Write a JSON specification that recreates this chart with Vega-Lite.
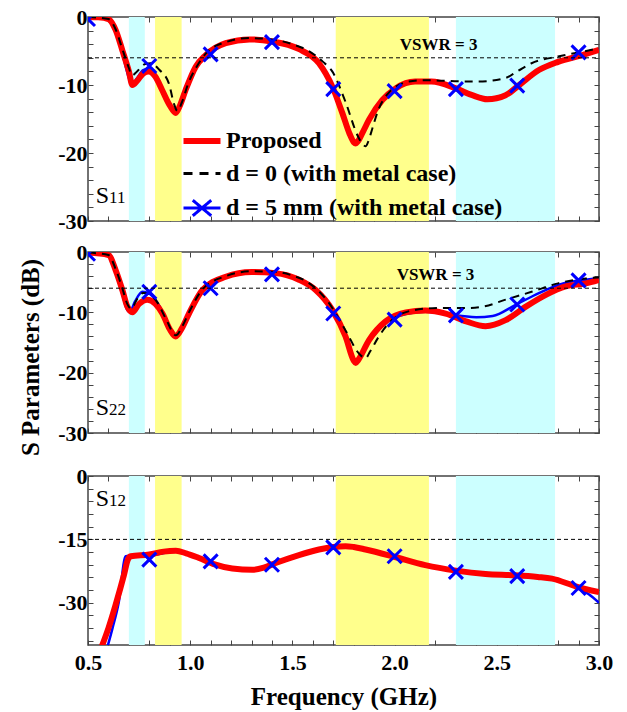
{
  "$schema": "https://vega.github.io/schema/vega-lite/v6.json",
  "padding": {"left": 17, "top": 5, "right": 10, "bottom": 0},
  "config": {
    "font": "Liberation Serif",
    "view": {"stroke": "#444", "strokeWidth": 1.5},
    "axis": {"grid": false, "domain": false, "tickColor": "#444", "tickSize": -5, "tickWidth": 1, "labelFont": "Liberation Serif", "labelFontWeight": "bold", "labelFontSize": 22, "labelColor": "#000", "titleFont": "Liberation Serif", "titleFontWeight": "bold", "titleFontSize": 25, "titleColor": "#000", "labelPadding": 6, "labelOverlap": false},
    "axisX": {"labelFlush": false}
  },
  "datasets": {
    "bands": [{"f1": 0.70, "f2": 0.778, "band": "c"}, {"f1": 0.828, "f2": 0.958, "band": "y"}, {"f1": 1.712, "f2": 2.168, "band": "y"}, {"f1": 2.30, "f2": 2.785, "band": "c"}],
    "s11_prop": [{"f":0.50,"db":0},{"f":0.55,"db":-0.05},{"f":0.60,"db":-0.3},{"f":0.635,"db":-1.9},{"f":0.668,"db":-4.9},{"f":0.70,"db":-8.0},{"f":0.717,"db":-10.0},{"f":0.74,"db":-9.4},{"f":0.77,"db":-8.3},{"f":0.798,"db":-8.0},{"f":0.83,"db":-8.8},{"f":0.862,"db":-10.7},{"f":0.90,"db":-13.0},{"f":0.929,"db":-14.1},{"f":0.95,"db":-13.0},{"f":0.978,"db":-10.7},{"f":1.027,"db":-7.3},{"f":1.076,"db":-5.6},{"f":1.174,"db":-3.85},{"f":1.29,"db":-3.3},{"f":1.40,"db":-3.6},{"f":1.53,"db":-4.7},{"f":1.63,"db":-6.8},{"f":1.695,"db":-10.2},{"f":1.744,"db":-14.1},{"f":1.78,"db":-17.2},{"f":1.80,"db":-18.4},{"f":1.81,"db":-18.6},{"f":1.82,"db":-18.3},{"f":1.845,"db":-16.9},{"f":1.875,"db":-15.1},{"f":1.94,"db":-12.2},{"f":2.005,"db":-10.5},{"f":2.10,"db":-9.5},{"f":2.18,"db":-9.5},{"f":2.30,"db":-10.5},{"f":2.38,"db":-11.5},{"f":2.454,"db":-12.1},{"f":2.543,"db":-11.5},{"f":2.61,"db":-10.0},{"f":2.706,"db":-7.8},{"f":2.80,"db":-6.6},{"f":2.918,"db":-5.6},{"f":3.0,"db":-4.85}],
    "s11_d0": [{"f":0.50,"db":0},{"f":0.60,"db":-0.3},{"f":0.635,"db":-1.8},{"f":0.668,"db":-4.7},{"f":0.70,"db":-7.5},{"f":0.715,"db":-8.6},{"f":0.74,"db":-8.0},{"f":0.78,"db":-6.9},{"f":0.806,"db":-6.8},{"f":0.85,"db":-7.8},{"f":0.896,"db":-9.8},{"f":0.92,"db":-12.7},{"f":0.937,"db":-13.8},{"f":0.96,"db":-12.5},{"f":0.99,"db":-9.8},{"f":1.03,"db":-7.4},{"f":1.076,"db":-5.4},{"f":1.174,"db":-3.7},{"f":1.29,"db":-3.1},{"f":1.40,"db":-3.3},{"f":1.50,"db":-4.0},{"f":1.58,"db":-5.0},{"f":1.65,"db":-6.6},{"f":1.695,"db":-8.0},{"f":1.76,"db":-12.5},{"f":1.82,"db":-17.5},{"f":1.85,"db":-18.9},{"f":1.858,"db":-19.0},{"f":1.87,"db":-18.4},{"f":1.89,"db":-16.5},{"f":1.92,"db":-13.7},{"f":1.97,"db":-11.2},{"f":2.07,"db":-9.5},{"f":2.15,"db":-9.3},{"f":2.26,"db":-9.4},{"f":2.40,"db":-9.5},{"f":2.54,"db":-9.0},{"f":2.60,"db":-8.0},{"f":2.67,"db":-6.8},{"f":2.80,"db":-5.8},{"f":2.92,"db":-5.1},{"f":3.0,"db":-4.6}],
    "s11_d5": [{"f":0.50,"db":0},{"f":0.60,"db":-0.4},{"f":0.635,"db":-2.2},{"f":0.668,"db":-5.4},{"f":0.70,"db":-9.0},{"f":0.712,"db":-10.0},{"f":0.74,"db":-9.0},{"f":0.77,"db":-7.8},{"f":0.80,"db":-7.6},{"f":0.83,"db":-8.4},{"f":0.862,"db":-10.4},{"f":0.90,"db":-12.8},{"f":0.929,"db":-13.9},{"f":0.95,"db":-12.8},{"f":0.978,"db":-10.5},{"f":1.027,"db":-7.2},{"f":1.076,"db":-5.6},{"f":1.174,"db":-3.8},{"f":1.29,"db":-3.2},{"f":1.40,"db":-3.5},{"f":1.53,"db":-4.6},{"f":1.63,"db":-6.7},{"f":1.695,"db":-10.1},{"f":1.744,"db":-14.0},{"f":1.78,"db":-17.0},{"f":1.81,"db":-18.4},{"f":1.84,"db":-17.2},{"f":1.875,"db":-15.0},{"f":1.94,"db":-12.2},{"f":2.005,"db":-10.6},{"f":2.10,"db":-9.6},{"f":2.18,"db":-9.6},{"f":2.30,"db":-10.6},{"f":2.38,"db":-11.4},{"f":2.454,"db":-11.9},{"f":2.543,"db":-11.4},{"f":2.61,"db":-10.0},{"f":2.706,"db":-7.8},{"f":2.80,"db":-6.5},{"f":2.918,"db":-5.5},{"f":3.0,"db":-4.8}],
    "m11": [{"f":0.5,"db":-0.3},{"f":0.8,"db":-7.2},{"f":1.1,"db":-5.5},{"f":1.4,"db":-3.7},{"f":1.7,"db":-10.6},{"f":2.0,"db":-10.9},{"f":2.3,"db":-10.6},{"f":2.6,"db":-10.1},{"f":2.9,"db":-5.2}],
    "s22_prop": [{"f":0.50,"db":-0.1},{"f":0.60,"db":-0.5},{"f":0.635,"db":-3.0},{"f":0.668,"db":-6.3},{"f":0.692,"db":-9.0},{"f":0.717,"db":-10.0},{"f":0.75,"db":-8.6},{"f":0.79,"db":-7.9},{"f":0.83,"db":-8.6},{"f":0.864,"db":-10.2},{"f":0.90,"db":-12.8},{"f":0.929,"db":-14.0},{"f":0.96,"db":-12.6},{"f":0.994,"db":-10.2},{"f":1.06,"db":-6.3},{"f":1.174,"db":-4.1},{"f":1.30,"db":-3.3},{"f":1.418,"db":-3.5},{"f":1.532,"db":-4.6},{"f":1.614,"db":-6.3},{"f":1.695,"db":-9.6},{"f":1.76,"db":-14.0},{"f":1.80,"db":-18.0},{"f":1.81,"db":-18.4},{"f":1.82,"db":-18.0},{"f":1.875,"db":-14.6},{"f":1.956,"db":-11.5},{"f":2.055,"db":-10.0},{"f":2.15,"db":-9.7},{"f":2.25,"db":-10.2},{"f":2.35,"db":-11.5},{"f":2.445,"db":-12.3},{"f":2.543,"db":-11.3},{"f":2.64,"db":-9.1},{"f":2.74,"db":-7.1},{"f":2.837,"db":-5.7},{"f":2.935,"db":-5.2},{"f":3.0,"db":-4.6}],
    "s22_d0": [{"f":0.50,"db":-0.1},{"f":0.60,"db":-0.5},{"f":0.635,"db":-2.8},{"f":0.668,"db":-6.0},{"f":0.692,"db":-8.6},{"f":0.712,"db":-9.4},{"f":0.74,"db":-7.8},{"f":0.77,"db":-6.8},{"f":0.80,"db":-7.0},{"f":0.84,"db":-8.4},{"f":0.88,"db":-11.0},{"f":0.93,"db":-13.8},{"f":0.96,"db":-12.4},{"f":0.994,"db":-10.0},{"f":1.06,"db":-6.2},{"f":1.174,"db":-4.0},{"f":1.30,"db":-3.2},{"f":1.418,"db":-3.3},{"f":1.50,"db":-3.9},{"f":1.565,"db":-4.8},{"f":1.62,"db":-6.2},{"f":1.68,"db":-8.5},{"f":1.76,"db":-13.0},{"f":1.83,"db":-17.0},{"f":1.858,"db":-17.6},{"f":1.88,"db":-16.5},{"f":1.923,"db":-14.0},{"f":1.99,"db":-11.2},{"f":2.10,"db":-9.6},{"f":2.21,"db":-9.3},{"f":2.34,"db":-9.3},{"f":2.44,"db":-9.0},{"f":2.543,"db":-7.9},{"f":2.67,"db":-6.6},{"f":2.80,"db":-5.2},{"f":2.935,"db":-4.4},{"f":3.0,"db":-4.2}],
    "s22_d5": [{"f":0.50,"db":-0.1},{"f":0.60,"db":-0.6},{"f":0.635,"db":-3.4},{"f":0.668,"db":-7.0},{"f":0.692,"db":-9.6},{"f":0.705,"db":-9.9},{"f":0.73,"db":-8.2},{"f":0.766,"db":-6.6},{"f":0.80,"db":-6.9},{"f":0.84,"db":-8.4},{"f":0.88,"db":-11.0},{"f":0.925,"db":-13.8},{"f":0.96,"db":-12.4},{"f":0.994,"db":-10.0},{"f":1.06,"db":-6.2},{"f":1.174,"db":-4.0},{"f":1.30,"db":-3.2},{"f":1.418,"db":-3.4},{"f":1.532,"db":-4.5},{"f":1.614,"db":-6.2},{"f":1.695,"db":-9.8},{"f":1.76,"db":-14.2},{"f":1.805,"db":-18.0},{"f":1.815,"db":-18.2},{"f":1.825,"db":-17.8},{"f":1.875,"db":-14.9},{"f":1.956,"db":-11.8},{"f":2.055,"db":-10.3},{"f":2.15,"db":-9.9},{"f":2.25,"db":-10.2},{"f":2.30,"db":-10.5},{"f":2.40,"db":-10.8},{"f":2.48,"db":-10.6},{"f":2.59,"db":-8.8},{"f":2.706,"db":-6.8},{"f":2.837,"db":-5.1},{"f":2.935,"db":-4.6},{"f":3.0,"db":-4.3}],
    "m22": [{"f":0.5,"db":-0.3},{"f":0.8,"db":-6.6},{"f":1.1,"db":-6.0},{"f":1.4,"db":-3.7},{"f":1.7,"db":-10.2},{"f":2.0,"db":-11.2},{"f":2.3,"db":-10.5},{"f":2.6,"db":-8.7},{"f":2.9,"db":-4.7}],
    "s12_prop": [{"f":0.562,"db":-41},{"f":0.60,"db":-36},{"f":0.635,"db":-30.5},{"f":0.676,"db":-23.4},{"f":0.695,"db":-19.8},{"f":0.709,"db":-19.0},{"f":0.80,"db":-18.6},{"f":0.87,"db":-17.9},{"f":0.93,"db":-17.7},{"f":0.98,"db":-18.3},{"f":1.043,"db":-19.4},{"f":1.12,"db":-20.9},{"f":1.206,"db":-21.9},{"f":1.304,"db":-22.2},{"f":1.36,"db":-21.7},{"f":1.418,"db":-20.6},{"f":1.532,"db":-18.7},{"f":1.63,"db":-17.4},{"f":1.70,"db":-16.8},{"f":1.76,"db":-16.6},{"f":1.80,"db":-16.8},{"f":1.858,"db":-17.4},{"f":1.99,"db":-19.0},{"f":2.15,"db":-21.1},{"f":2.30,"db":-22.4},{"f":2.445,"db":-23.2},{"f":2.59,"db":-23.5},{"f":2.70,"db":-23.9},{"f":2.77,"db":-24.3},{"f":2.886,"db":-26.1},{"f":3.0,"db":-27.5}],
    "s12_d0": [{"f":0.57,"db":-41},{"f":0.61,"db":-35.5},{"f":0.645,"db":-29.8},{"f":0.68,"db":-23.0},{"f":0.70,"db":-19.6},{"f":0.72,"db":-18.9},{"f":0.80,"db":-18.8},{"f":0.93,"db":-17.8},{"f":1.043,"db":-19.5},{"f":1.206,"db":-22.0},{"f":1.304,"db":-22.3},{"f":1.418,"db":-20.5},{"f":1.532,"db":-18.5},{"f":1.70,"db":-16.7},{"f":1.76,"db":-16.5},{"f":1.858,"db":-17.3},{"f":1.99,"db":-19.0},{"f":2.15,"db":-21.2},{"f":2.35,"db":-22.9},{"f":2.445,"db":-23.1},{"f":2.59,"db":-23.4},{"f":2.77,"db":-24.2},{"f":2.886,"db":-26.0},{"f":3.0,"db":-27.6}],
    "s12_d5": [{"f":0.592,"db":-41},{"f":0.62,"db":-36},{"f":0.65,"db":-30},{"f":0.684,"db":-19.0},{"f":0.72,"db":-18.8},{"f":0.79,"db":-18.9},{"f":0.93,"db":-17.8},{"f":1.043,"db":-19.5},{"f":1.206,"db":-22.0},{"f":1.304,"db":-22.2},{"f":1.418,"db":-20.7},{"f":1.532,"db":-18.8},{"f":1.695,"db":-16.9},{"f":1.76,"db":-16.7},{"f":1.858,"db":-17.5},{"f":2.0,"db":-19.1},{"f":2.15,"db":-21.2},{"f":2.30,"db":-22.5},{"f":2.445,"db":-23.3},{"f":2.59,"db":-23.6},{"f":2.77,"db":-24.5},{"f":2.89,"db":-26.3},{"f":2.95,"db":-28.0},{"f":3.0,"db":-30.0}],
    "m12": [{"f":0.8,"db":-19.8},{"f":1.1,"db":-20.2},{"f":1.4,"db":-21.0},{"f":1.7,"db":-16.9},{"f":2.0,"db":-19.0},{"f":2.3,"db":-22.7},{"f":2.6,"db":-23.7},{"f":2.9,"db":-26.5}]
  },
  "spacing": 4,
  "vconcat": [
    {
      "bounds": "flush",
      "spacing": 31,
      "vconcat": [
        {
          "width": 511, "height": 204,
          "resolve": {"scale": {"x": "independent", "y": "independent"}},
          "layer": [
            {
              "layer": [
                {"data": {"name": "bands"}, "mark": {"type": "rect", "clip": true},
                 "encoding": {"x": {"field": "f1", "type": "quantitative", "scale": {"domain": [0.5, 3], "nice": false, "zero": false}, "title": null, "axis": {"tickCount": 25, "labels": false}}, "x2": {"field": "f2"},
                  "fill": {"condition": {"test": "datum.band == 'c'", "value": "#ccffff"}, "value": "#ffff8c"}}},
                {"data": {"name": "s11_d5"}, "mark": {"type": "line", "strokeWidth": 2.5, "interpolate": "monotone", "clip": true},
                 "encoding": {"x": {"field": "f", "type": "quantitative", "scale": {"domain": [0.5, 3], "nice": false, "zero": false}, "title": null},
                  "y": {"field": "db", "type": "quantitative", "scale": {"domain": [-30, 0], "nice": false, "zero": false}, "title": null, "axis": {"tickCount": 15, "labelOverlap": false, "labelExpr": "datum.value % 10 == 0 ? '' + datum.value : ''"}},
                  "color": {"datum": "d = 5 mm (with metal case)", "type": "nominal",
                    "scale": {"domain": ["Proposed", "d = 0 (with metal case)", "d = 5 mm (with metal case)"], "range": ["#ff0000", "#000000", "#0000ff"]},
                    "legend": {"orient": "none", "legendX": 102, "legendY": 112, "title": null, "labelFont": "Liberation Serif", "labelFontWeight": "bold", "labelFontSize": 24, "labelColor": "#000", "labelLimit": 400, "symbolType": "stroke", "symbolSize": 1369, "symbolStrokeWidth": 3, "labelOffset": 12, "rowPadding": 8.5,
                      "encode": {"symbols": {"update": {
                        "strokeDash": {"signal": "datum.value == 'd = 0 (with metal case)' ? [9, 7] : [1, 0]"},
                        "strokeWidth": {"signal": "datum.value == 'Proposed' ? 6 : 3"},
                        "shape": {"signal": "datum.value == 'd = 5 mm (with metal case)' ? 'M-1,0L1,0M-0.5,-0.42L0.5,0.42M-0.5,0.42L0.5,-0.42' : 'stroke'"}}}}}}}},
                {"data": {"name": "s11_prop"}, "mark": {"type": "line", "strokeWidth": 6, "interpolate": "monotone", "clip": true, "strokeJoin": "round"},
                 "encoding": {"x": {"field": "f", "type": "quantitative", "scale": {"domain": [0.5, 3], "nice": false, "zero": false}, "title": null},
                  "y": {"field": "db", "type": "quantitative", "scale": {"domain": [-30, 0], "nice": false, "zero": false}, "title": null},
                  "color": {"datum": "Proposed", "type": "nominal"}}},
                {"data": {"name": "s11_d0"}, "mark": {"type": "line", "strokeWidth": 2, "strokeDash": [8, 6], "interpolate": "monotone", "clip": true},
                 "encoding": {"x": {"field": "f", "type": "quantitative", "scale": {"domain": [0.5, 3], "nice": false, "zero": false}, "title": null},
                  "y": {"field": "db", "type": "quantitative", "scale": {"domain": [-30, 0], "nice": false, "zero": false}, "title": null},
                  "color": {"datum": "d = 0 (with metal case)", "type": "nominal"}}},
                {"data": {"name": "m11"}, "mark": {"type": "point", "shape": "M-1,-1L1,1M-1,1L1,-1", "filled": false, "stroke": "#0000ff", "strokeWidth": 3, "size": 196, "opacity": 1, "clip": true},
                 "encoding": {"x": {"field": "f", "type": "quantitative", "scale": {"domain": [0.5, 3], "nice": false, "zero": false}, "title": null},
                  "y": {"field": "db", "type": "quantitative", "scale": {"domain": [-30, 0], "nice": false, "zero": false}, "title": null}}},
                {"data": {"values": [{"label": "VSWR = 3", "f": 2.215, "db": -4.9}]}, "mark": {"type": "text", "fontWeight": "bold", "fontSize": 17, "align": "center", "baseline": "alphabetic", "color": "#000"},
                 "encoding": {"x": {"field": "f", "type": "quantitative", "title": null}, "y": {"field": "db", "type": "quantitative", "title": null}, "text": {"field": "label"}}},
                {"data": {"values": [{"label": "S", "f": 0.538, "db": -27.4}]}, "mark": {"type": "text", "fontSize": 24, "align": "left", "baseline": "alphabetic", "color": "#000"},
                 "encoding": {"x": {"field": "f", "type": "quantitative", "title": null}, "y": {"field": "db", "type": "quantitative", "title": null}, "text": {"field": "label"}}},
                {"data": {"values": [{"label": "11", "f": 0.603, "db": -27.4}]}, "mark": {"type": "text", "fontSize": 17, "align": "left", "baseline": "alphabetic", "color": "#000"},
                 "encoding": {"x": {"field": "f", "type": "quantitative", "title": null}, "y": {"field": "db", "type": "quantitative", "title": null}, "text": {"field": "label"}}}
              ]
            },
            {"data": {"values": [{"f": 0.5, "f2": 3.0, "db": -6}]}, "mark": {"type": "rule", "strokeDash": [4, 3], "color": "#000", "strokeWidth": 1},
             "encoding": {"x": {"field": "f", "type": "quantitative", "scale": {"domain": [0.5, 3], "nice": false, "zero": false}, "title": null, "axis": {"orient": "top", "tickCount": 25, "labels": false}}, "x2": {"field": "f2"},
              "y": {"field": "db", "type": "quantitative", "scale": {"domain": [-30, 0], "nice": false, "zero": false}, "title": null, "axis": {"orient": "right", "tickCount": 15, "labels": false}}}}
          ]
        },
        {
          "width": 511, "height": 181,
          "resolve": {"scale": {"x": "independent", "y": "independent"}},
          "layer": [
            {
              "layer": [
                {"data": {"name": "bands"}, "mark": {"type": "rect", "clip": true},
                 "encoding": {"x": {"field": "f1", "type": "quantitative", "scale": {"domain": [0.5, 3], "nice": false, "zero": false}, "title": null, "axis": {"tickCount": 25, "labels": false}}, "x2": {"field": "f2"},
                  "fill": {"condition": {"test": "datum.band == 'c'", "value": "#ccffff"}, "value": "#ffff8c"}}},
                {"data": {"name": "s22_d5"}, "mark": {"type": "line", "strokeWidth": 2.5, "interpolate": "monotone", "clip": true, "color": "#0000ff"},
                 "encoding": {"x": {"field": "f", "type": "quantitative", "scale": {"domain": [0.5, 3], "nice": false, "zero": false}, "title": null},
                  "y": {"field": "db", "type": "quantitative", "scale": {"domain": [-30, 0], "nice": false, "zero": false}, "title": "S  Parameters (dB)", "axis": {"tickCount": 15, "labelOverlap": false, "labelExpr": "datum.value % 10 == 0 ? '' + datum.value : ''", "titlePadding": 14, "titleY": 105}}}},
                {"data": {"name": "s22_prop"}, "mark": {"type": "line", "strokeWidth": 6, "interpolate": "monotone", "clip": true, "strokeJoin": "round", "color": "#ff0000"},
                 "encoding": {"x": {"field": "f", "type": "quantitative", "scale": {"domain": [0.5, 3], "nice": false, "zero": false}, "title": null},
                  "y": {"field": "db", "type": "quantitative", "scale": {"domain": [-30, 0], "nice": false, "zero": false}, "title": "S  Parameters (dB)"}}},
                {"data": {"name": "s22_d0"}, "mark": {"type": "line", "strokeWidth": 2, "strokeDash": [8, 6], "interpolate": "monotone", "clip": true, "color": "#000000"},
                 "encoding": {"x": {"field": "f", "type": "quantitative", "scale": {"domain": [0.5, 3], "nice": false, "zero": false}, "title": null},
                  "y": {"field": "db", "type": "quantitative", "scale": {"domain": [-30, 0], "nice": false, "zero": false}, "title": "S  Parameters (dB)"}}},
                {"data": {"name": "m22"}, "mark": {"type": "point", "shape": "M-1,-1L1,1M-1,1L1,-1", "filled": false, "stroke": "#0000ff", "strokeWidth": 3, "size": 196, "opacity": 1, "clip": true},
                 "encoding": {"x": {"field": "f", "type": "quantitative", "scale": {"domain": [0.5, 3], "nice": false, "zero": false}, "title": null},
                  "y": {"field": "db", "type": "quantitative", "scale": {"domain": [-30, 0], "nice": false, "zero": false}, "title": "S  Parameters (dB)"}}},
                {"data": {"values": [{"label": "VSWR = 3", "f": 2.20, "db": -4.6}]}, "mark": {"type": "text", "fontWeight": "bold", "fontSize": 17, "align": "center", "baseline": "alphabetic", "color": "#000"},
                 "encoding": {"x": {"field": "f", "type": "quantitative", "title": null}, "y": {"field": "db", "type": "quantitative", "title": "S  Parameters (dB)"}, "text": {"field": "label"}}},
                {"data": {"values": [{"label": "S", "f": 0.538, "db": -27.0}]}, "mark": {"type": "text", "fontSize": 24, "align": "left", "baseline": "alphabetic", "color": "#000"},
                 "encoding": {"x": {"field": "f", "type": "quantitative", "title": null}, "y": {"field": "db", "type": "quantitative", "title": "S  Parameters (dB)"}, "text": {"field": "label"}}},
                {"data": {"values": [{"label": "22", "f": 0.603, "db": -27.0}]}, "mark": {"type": "text", "fontSize": 17, "align": "left", "baseline": "alphabetic", "color": "#000"},
                 "encoding": {"x": {"field": "f", "type": "quantitative", "title": null}, "y": {"field": "db", "type": "quantitative", "title": "S  Parameters (dB)"}, "text": {"field": "label"}}}
              ]
            },
            {"data": {"values": [{"f": 0.5, "f2": 3.0, "db": -6}]}, "mark": {"type": "rule", "strokeDash": [4, 3], "color": "#000", "strokeWidth": 1},
             "encoding": {"x": {"field": "f", "type": "quantitative", "scale": {"domain": [0.5, 3], "nice": false, "zero": false}, "title": null, "axis": {"orient": "top", "tickCount": 25, "labels": false}}, "x2": {"field": "f2"},
              "y": {"field": "db", "type": "quantitative", "scale": {"domain": [-30, 0], "nice": false, "zero": false}, "title": null, "axis": {"orient": "right", "tickCount": 15, "labels": false}}}}
          ]
        }
      ]
    },
    {
      "width": 511, "height": 169,
      "resolve": {"scale": {"x": "independent", "y": "independent"}},
      "layer": [
        {
          "layer": [
            {"data": {"name": "bands"}, "mark": {"type": "rect", "clip": true},
             "encoding": {"x": {"field": "f1", "type": "quantitative", "scale": {"domain": [0.5, 3], "nice": false, "zero": false}, "title": "Frequency (GHz)", "axis": {"tickCount": 25, "labelOverlap": false, "labelExpr": "abs(datum.value * 2 - round(datum.value * 2)) < 0.01 ? format(datum.value, '.1f') : ''", "labelPadding": 12, "titlePadding": 11}}, "x2": {"field": "f2"},
              "fill": {"condition": {"test": "datum.band == 'c'", "value": "#ccffff"}, "value": "#ffff8c"}}},
            {"data": {"name": "s12_d5"}, "mark": {"type": "line", "strokeWidth": 2.5, "interpolate": "monotone", "clip": true, "color": "#0000ff"},
             "encoding": {"x": {"field": "f", "type": "quantitative", "scale": {"domain": [0.5, 3], "nice": false, "zero": false}, "title": "Frequency (GHz)"},
              "y": {"field": "db", "type": "quantitative", "scale": {"domain": [-40, 0], "nice": false, "zero": false}, "title": null, "axis": {"values": [0, -3, -6, -9, -12, -15, -18, -21, -24, -27, -30, -33, -36, -39], "tickCount": 20, "labelOverlap": false, "labelExpr": "datum.value == 0 ? '0' : datum.value == -15 ? '-15' : datum.value == -30 ? '-30' : ''"}}}},
            {"data": {"name": "s12_d0"}, "mark": {"type": "line", "strokeWidth": 2, "strokeDash": [8, 6], "interpolate": "monotone", "clip": true, "color": "#000000"},
             "encoding": {"x": {"field": "f", "type": "quantitative", "scale": {"domain": [0.5, 3], "nice": false, "zero": false}, "title": "Frequency (GHz)"},
              "y": {"field": "db", "type": "quantitative", "scale": {"domain": [-40, 0], "nice": false, "zero": false}, "title": null}}},
            {"data": {"name": "s12_prop"}, "mark": {"type": "line", "strokeWidth": 6, "interpolate": "monotone", "clip": true, "strokeJoin": "round", "color": "#ff0000"},
             "encoding": {"x": {"field": "f", "type": "quantitative", "scale": {"domain": [0.5, 3], "nice": false, "zero": false}, "title": "Frequency (GHz)"},
              "y": {"field": "db", "type": "quantitative", "scale": {"domain": [-40, 0], "nice": false, "zero": false}, "title": null}}},
            {"data": {"name": "m12"}, "mark": {"type": "point", "shape": "M-1,-1L1,1M-1,1L1,-1", "filled": false, "stroke": "#0000ff", "strokeWidth": 3, "size": 196, "opacity": 1, "clip": true},
             "encoding": {"x": {"field": "f", "type": "quantitative", "scale": {"domain": [0.5, 3], "nice": false, "zero": false}, "title": "Frequency (GHz)"},
              "y": {"field": "db", "type": "quantitative", "scale": {"domain": [-40, 0], "nice": false, "zero": false}, "title": null}}},
            {"data": {"values": [{"label": "S", "f": 0.538, "db": -7.2}]}, "mark": {"type": "text", "fontSize": 24, "align": "left", "baseline": "alphabetic", "color": "#000"},
             "encoding": {"x": {"field": "f", "type": "quantitative", "title": "Frequency (GHz)"}, "y": {"field": "db", "type": "quantitative", "title": null}, "text": {"field": "label"}}},
            {"data": {"values": [{"label": "12", "f": 0.603, "db": -7.2}]}, "mark": {"type": "text", "fontSize": 17, "align": "left", "baseline": "alphabetic", "color": "#000"},
             "encoding": {"x": {"field": "f", "type": "quantitative", "title": "Frequency (GHz)"}, "y": {"field": "db", "type": "quantitative", "title": null}, "text": {"field": "label"}}}
          ]
        },
        {"data": {"values": [{"f": 0.5, "f2": 3.0, "db": -15}]}, "mark": {"type": "rule", "strokeDash": [4, 3], "color": "#000", "strokeWidth": 1},
         "encoding": {"x": {"field": "f", "type": "quantitative", "scale": {"domain": [0.5, 3], "nice": false, "zero": false}, "title": null, "axis": {"orient": "top", "tickCount": 25, "labels": false}}, "x2": {"field": "f2"},
          "y": {"field": "db", "type": "quantitative", "scale": {"domain": [-40, 0], "nice": false, "zero": false}, "title": null, "axis": {"orient": "right", "values": [0, -3, -6, -9, -12, -15, -18, -21, -24, -27, -30, -33, -36, -39], "tickCount": 20, "labels": false}}}}
      ]
    }
  ]
}
